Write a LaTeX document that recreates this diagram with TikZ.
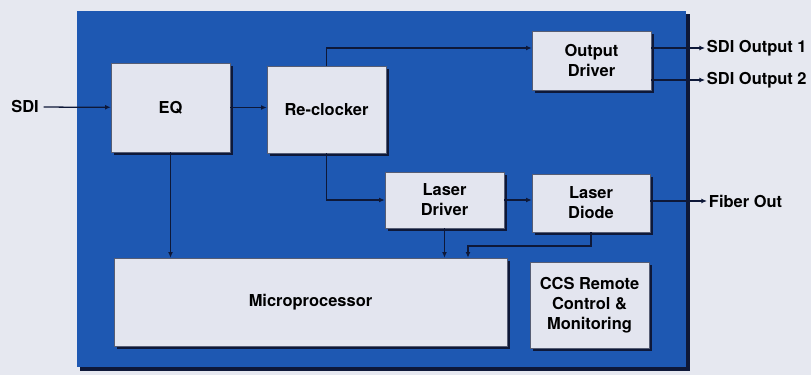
\documentclass[tikz,border=0pt]{standalone}
\usepackage{fontspec}
\setsansfont{TeX Gyre Heros}
\usetikzlibrary{arrows.meta,calc,shadows}
\definecolor{paper}{HTML}{E6E8F0}
\definecolor{panel}{HTML}{1E58B2}
\definecolor{navy}{HTML}{0E1838}
\definecolor{card}{HTML}{E3E5EF}

\begin{document}
\begin{tikzpicture}[x=0.025cm,y=-0.025cm,
  font=\sffamily\bfseries\fontsize{11.7}{14.2}\selectfont,text=black,
  >={Latex[length=4pt,width=3.5pt]},
  block/.style={draw=navy!70,fill=card,align=center,inner sep=2pt,
    drop shadow={shadow xshift=2pt,shadow yshift=-2pt,fill=navy,opacity=1}},
  outlabel/.style={anchor=west,inner sep=1.2pt},
  wire/.style={navy,line width=0.9pt,->}]
  \useasboundingbox[fill=paper] (0,0) rectangle (811,375);
  \fill[navy] (80,14) rectangle (690,371);
  \fill[panel] (77,11) rectangle (686,367);

  \node[block,minimum width=2.975cm,minimum height=2.225cm] (eq)
    at (170.5,107.5) {EQ};
  \node[block,minimum width=2.975cm,minimum height=2.175cm] (rc)
    at (326.5,109.5) {Re-clocker};
  \node[block,minimum width=2.975cm,minimum height=1.475cm] (od)
    at (591.5,60.5) {Output\\Driver};
  \node[block,minimum width=2.975cm,minimum height=1.4cm] (ld)
    at (444.5,200) {Laser\\Driver};
  \node[block,minimum width=2.95cm,minimum height=1.45cm] (diode)
    at (591,203) {Laser\\Diode};
  \node[block,minimum width=9.825cm,minimum height=2.2cm] (mp)
    at (310.5,302) {Microprocessor};
  \node[block,minimum width=2.975cm,minimum height=2.15cm] (ccs)
    at (589.5,305) {CCS Remote\\Control \&\\Monitoring};

  \node (sdi) at (25,107) {SDI};
  \node[outlabel] (out1) at (705,48) {SDI Output 1};
  \node[outlabel] (out2) at (705,80) {SDI Output 2};
  \node[outlabel] (fiber) at (707,201) {Fiber Out};

  \draw[wire] (sdi) -- (eq);
  \draw[wire] (eq.east) -- (eq.east -| rc.west);
  \draw[wire] (rc.north) |- ($(od.north west)!.29!(od.south west)$);
  \draw[wire] (od.east |- out1.west) -- (out1.west);
  \draw[wire] (od.east |- out2.west) -- (out2.west);
  \draw[wire] (eq.south) -- (eq.south |- mp.north);
  \draw[wire] (rc.south) |- (ld.west);
  \draw[wire] (ld.east) -- (ld.east -| diode.west);
  \draw[wire] (diode.east |- fiber.west) -- (fiber.west);
  \draw[wire] (ld.south) -- (ld.south |- mp.north);
  \coordinate (bend) at (468,246);
  \draw[wire] (diode.south) |- (bend) -- (bend |- mp.north);
\end{tikzpicture}
\end{document}
